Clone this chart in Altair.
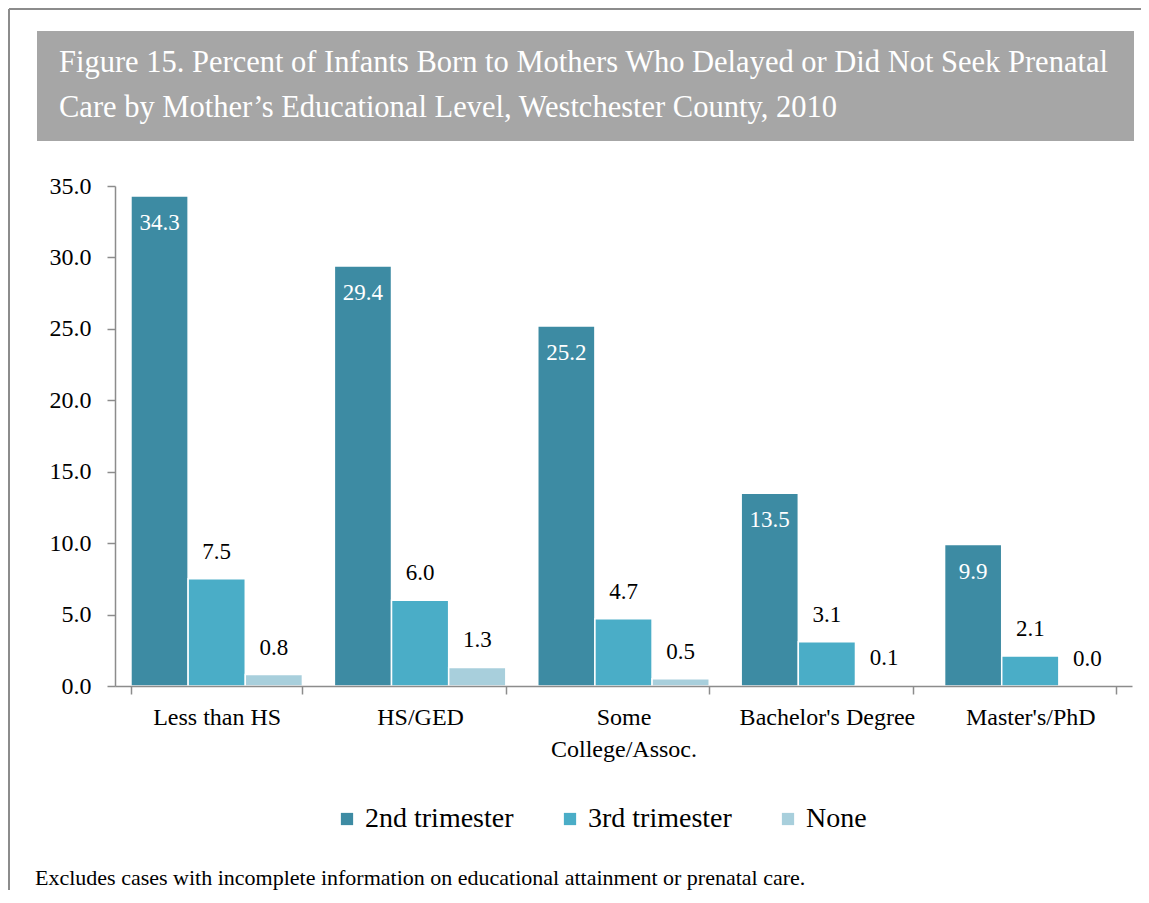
import altair as alt
import pandas as pd

categories = ["Less than HS", "HS/GED", "Some College/Assoc.", "Bachelor's Degree", "Master's/PhD"]
series = ["2nd trimester", "3rd trimester", "None"]
second_tri = [34.3, 29.4, 25.2, 13.5, 9.9]
third_tri = [7.5, 6.0, 4.7, 3.1, 2.1]
none_care = [0.8, 1.3, 0.5, 0.1, 0.0]
colors = ["#3d8ba3", "#4aadc7", "#a8cfdc"]
y_ticks = [0, 5, 10, 15, 20, 25, 30, 35]

title_lines = ["Figure 15. Percent of Infants Born to Mothers Who Delayed or Did Not Seek Prenatal",
               "Care by Mother\u2019s Educational Level, Westchester County, 2010"]
footnote = "Excludes cases with incomplete information on educational attainment or prenatal care."

rows = []
for s, vals in zip(series, [second_tri, third_tri, none_care]):
    for c, v in zip(categories, vals):
        rows.append({"category": c, "series": s, "value": v})
df = pd.DataFrame(rows)

FONT = "Liberation Serif"

x_enc = alt.X("category:N", sort=categories,
              scale=alt.Scale(paddingInner=0.157, paddingOuter=0.0785),
              axis=alt.Axis(title=None, labelAngle=0, tickBand="extent", tickSize=8, zindex=1,
                            domainColor="#8c8c8c", tickColor="#8c8c8c", domainWidth=1.5, tickWidth=1.5,
                            labelFont=FONT, labelFontSize=24, labelColor="#000000",
                            labelPadding=11, labelLineHeight=32,
                            labelExpr="datum.value == 'Some College/Assoc.' ? ['Some', 'College/Assoc.'] : datum.label"))
xo_enc = alt.XOffset("series:N", sort=series, scale=alt.Scale(paddingInner=0, paddingOuter=0))
y_enc = alt.Y("value:Q", scale=alt.Scale(domain=[0, 35], nice=False),
              axis=alt.Axis(title=None, values=y_ticks, format=".1f", grid=False, tickSize=8, zindex=1,
                            domainColor="#8c8c8c", tickColor="#8c8c8c", domainWidth=1.5, tickWidth=1.5,
                            labelFont=FONT, labelFontSize=24, labelColor="#000000", labelPadding=16))

base = alt.Chart(df)

bars = base.mark_bar(stroke="white", strokeWidth=1.5).encode(
    x=x_enc, xOffset=xo_enc, y=y_enc,
    color=alt.Color("series:N", sort=series, scale=alt.Scale(domain=series, range=colors),
                    legend=alt.Legend(title=None, orient="none", legendX=218, legendY=619,
                                      direction="horizontal", symbolType="square", symbolSize=150,
                                      symbolStrokeWidth=0, labelFont=FONT, labelFontSize=28,
                                      labelColor="#000000", columnPadding=42, labelOffset=4))
)

inside = base.transform_filter(alt.datum.series == "2nd trimester").mark_text(
    font=FONT, fontSize=23, color="white", baseline="middle", dy=27
).encode(x=alt.X("category:N", sort=categories), xOffset=xo_enc, y="value:Q",
         text=alt.Text("value:Q", format=".1f"))

above = base.transform_filter(alt.datum.series != "2nd trimester").mark_text(
    font=FONT, fontSize=23, color="black", baseline="middle", dy=-27
).encode(x=alt.X("category:N", sort=categories), xOffset=xo_enc, y="value:Q",
         text=alt.Text("value:Q", format=".1f"))

one = pd.DataFrame({"k": [0]})
title_box = alt.Chart(one).mark_rect(color="#a6a6a6").encode(
    x=alt.value(-78), x2=alt.value(1019), y=alt.value(-155), y2=alt.value(-45))
title_text = alt.Chart(one).mark_text(
    font=FONT, fontSize=30.5, color="white", align="left", baseline="alphabetic", lineHeight=45
).encode(x=alt.value(-56), y=alt.value(-114), text=alt.value(title_lines))
frame_left = alt.Chart(one).mark_rule(color="#8c8c8c", strokeWidth=2).encode(
    x=alt.value(-106), y=alt.value(-177), y2=alt.value(720))
frame_top = alt.Chart(one).mark_rule(color="#8c8c8c", strokeWidth=2).encode(
    x=alt.value(-106), x2=alt.value(1030), y=alt.value(-177))
foot = alt.Chart(one).mark_text(
    font=FONT, fontSize=22, color="black", align="left", baseline="alphabetic"
).encode(x=alt.value(-80), y=alt.value(699), text=alt.value(footnote))

chart = alt.layer(frame_left, frame_top, title_box, title_text, bars, inside, above, foot).properties(
    width=1017, height=500,
    view=alt.ViewBackground(strokeWidth=0, strokeOpacity=0),
    autosize=alt.AutoSizeParams(type="none"),
    padding={"left": 107, "top": 178, "right": 9, "bottom": 204}
).configure_view(strokeWidth=0, strokeOpacity=0).configure(background="white")

chart.save("out.html", embed_options={"renderer": "svg", "actions": False})
